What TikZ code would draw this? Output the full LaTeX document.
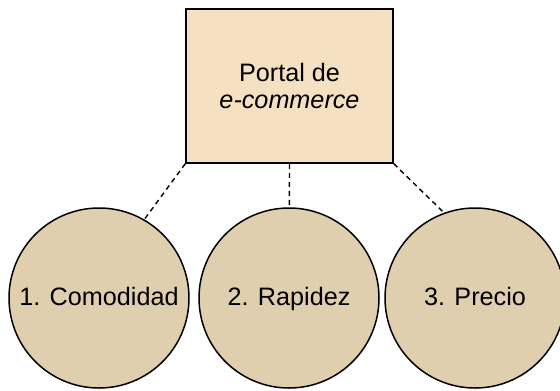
\documentclass[tikz,border=0pt]{standalone}
\usepackage{fontspec}
\setmainfont{Liberation Sans}
\usepackage{xcolor}
\usepackage{tikz}
\usetikzlibrary{positioning}

\definecolor{portalfill}{HTML}{F5E1C1}
\definecolor{factorfill}{HTML}{E0CFAE}

\tikzset{
    portal/.style={draw, line width=0.75pt, fill=portalfill, align=center,
        minimum width=103.5pt, minimum height=77pt, inner sep=0pt,
        text depth=0pt},
    factor/.style={draw, line width=0.75pt, circle, fill=factorfill,
        minimum size=90pt, inner sep=0pt, text height=0.72em, text depth=0pt},
    link/.style={line width=0.7pt, dash pattern=on 2.5pt off 2pt},
}

\begin{document}
\begin{tikzpicture} [ x=0.5pt, y=-0.5pt, font=\fontsize{12.6}{13.5}\selectfont ]
    \useasboundingbox (0,0) rectangle (560,390);

    \node[portal] (portal) at (289.5,86) {Portal de\\\textit{e-commerce}};

    \node[factor] (comodidad) at (99,298) {1. Comodidad};
    \node[factor] (rapidez) at (289,298) {2. Rapidez};
    \node[factor] (precio) at (475,298) {3. Precio};

    \draw[link] (portal.south west) -- (comodidad.60)
    (portal.south) -- (rapidez)
    (portal.south east) -- (precio.110)
    ;
\end{tikzpicture}
\end{document}
